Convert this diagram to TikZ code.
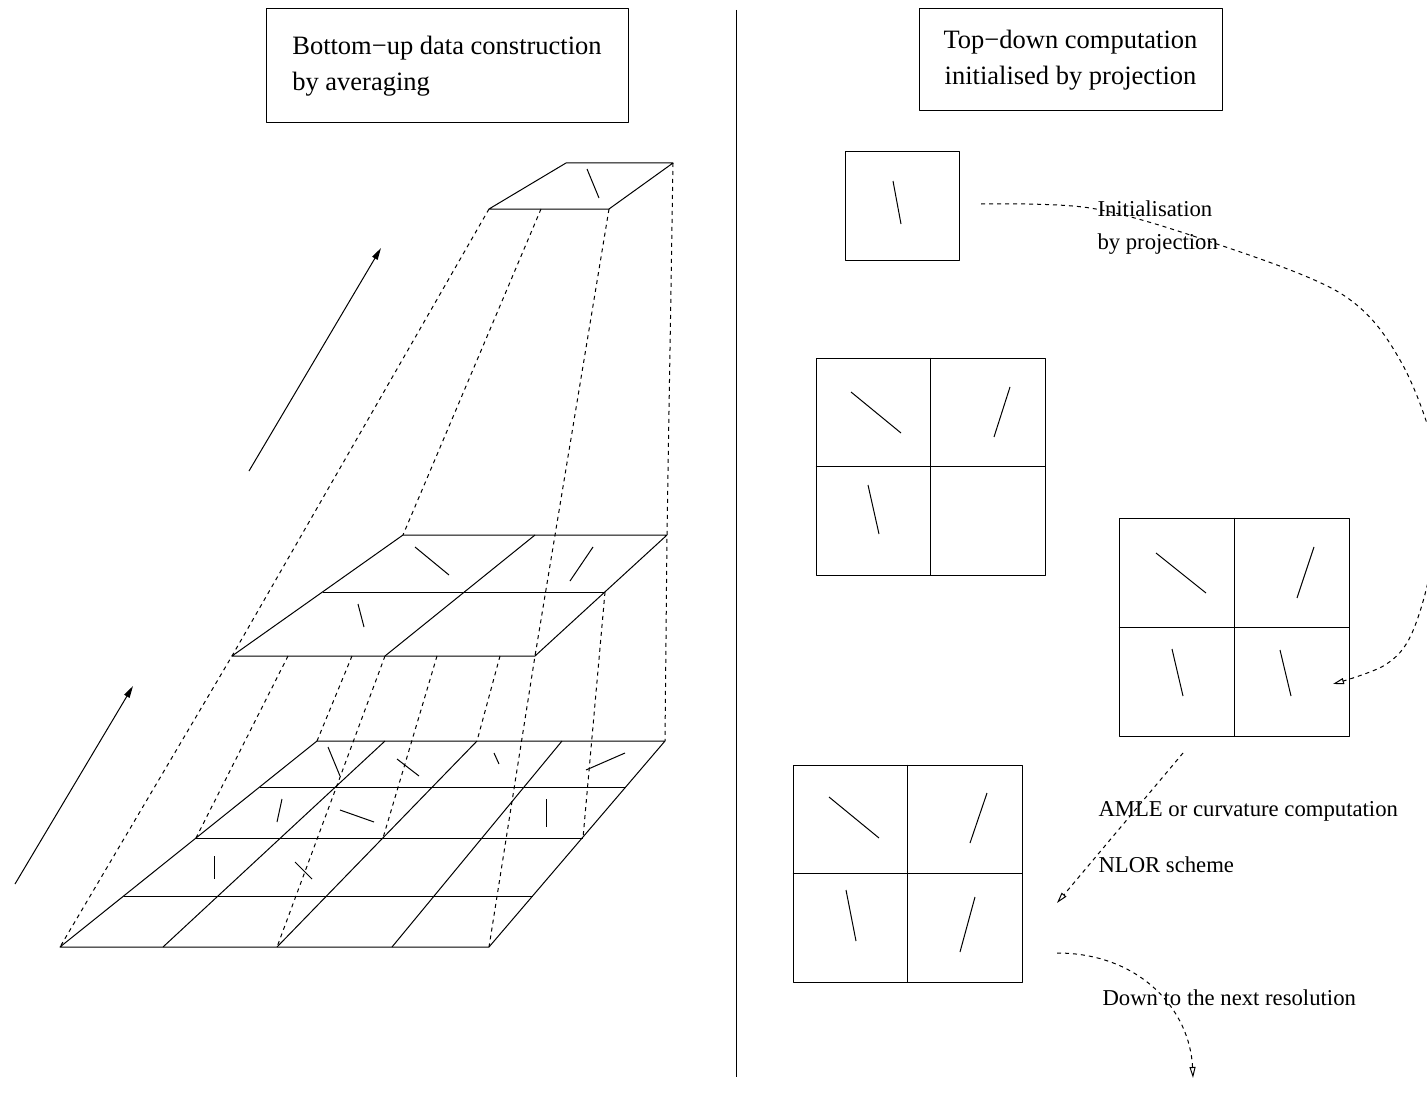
\documentclass[tikz,border=0pt]{standalone}
\usepackage{fontspec}
\setmainfont{Liberation Serif}
\usetikzlibrary{arrows.meta}
\begin{document}
\begin{tikzpicture}[x=1pt,y=-1pt,line width=1pt,line join=round,
  dsh/.style={dash pattern=on 4pt off 4pt},
  txt/.style={font=\fontsize{22.7}{34}\selectfont},
  lbl/.style={txt,inner sep=0pt,anchor=base west},
  titlebox/.style={draw,font=\fontsize{26.5}{36}\selectfont,inner ysep=0pt},
  cell/.style={draw,inner sep=0pt},
  filltip/.style={-{Triangle[length=12pt,width=6pt]}},
  opentip/.style={-{Triangle[open,length=11pt,width=6pt]}}]
\useasboundingbox (0,0) rectangle (1427,1105);
\clip (0,0) rectangle (1427,1105);

% ---------- titles and divider ----------
\node[titlebox,minimum width=362pt,minimum height=114pt,align=left]
  (ltitle) at (447,66) {Bottom−up data construction\\by averaging};
\node[titlebox,minimum width=303pt,minimum height=102pt,align=center]
  (rtitle) at (1070.5,60) {Top−down computation\\ initialised by projection};
\coordinate (divtop) at (736,10);
\coordinate (divbot) at (736,1077);
\draw (divtop) -- (divbot);

% ---------- left: resolution pyramid ----------
% coarsest level
\coordinate (t1) at (566,163); \coordinate (t2) at (673,163);
\coordinate (t3) at (609,209); \coordinate (t4) at (489,209);
\coordinate (tm) at (541,209);
\draw (t1) -- (t2) -- (t3) -- (t4) -- cycle;
\draw (587,169) -- (599,198);

% middle level (2x2)
\coordinate (m1) at (403,535); \coordinate (m2) at (667,535);
\coordinate (m3) at (535,656); \coordinate (m4) at (232,656);
\coordinate (mr) at (605,592);
\draw (m1) -- (m2) -- (m3) -- (m4) -- cycle;
\draw (323,592) -- (mr);
\draw (535,535) -- (385,656);
\draw (415,547) -- (449,575);
\draw (593,547) -- (570,581);
\draw (358,604) -- (364,627);

% finest level (4x4)
\coordinate (b1) at (317,741); \coordinate (b2) at (665,741);
\coordinate (b3) at (489,947); \coordinate (b4) at (60,947);
\draw (b1) -- (b2) -- (b3) -- (b4) -- cycle;
\draw (260,787) -- (626,787);
\draw (196,838) -- (583,838);
\draw (124,896) -- (533,896);
\draw (163,947) -- (385,741);
\draw (277,947) -- (477,741);
\draw (392,947) -- (562,741);
\draw (328,747) -- (340,776);
\draw (397,759) -- (419,776);
\draw (494,753) -- (499,764);
\draw (625,753) -- (586,770);
\draw (282,799) -- (277,822);
\draw (340,810) -- (374,822);
\draw (546,799) -- (546,827);
\draw (214,856) -- (214,879);
\draw (295,862) -- (312,879);

% projection lines between levels
\draw[dsh] (t4) -- (m4) -- (b4);
\draw[dsh] (tm) -- (m1);
\draw[dsh] (t3) -- (m3) -- (b3);
\draw[dsh] (t2) -- (m2) -- (b2);
\draw[dsh] (288,656) -- (196,838);
\draw[dsh] (352,656) -- (b1);
\draw[dsh] (385,656) -- (277,947);
\draw[dsh] (437,656) -- (383,838);
\draw[dsh] (500,656) -- (477,741);
\draw[dsh] (mr) -- (583,838);

% upward arrows
\coordinate (ua1) at (249,471); \coordinate (ua2) at (381,248);
\coordinate (ub1) at (15,884);  \coordinate (ub2) at (133,686);
\draw[filltip] (ua1) -- (ua2);
\draw[filltip] (ub1) -- (ub2);

% ---------- right: top-down computation ----------
\node[cell,minimum width=114pt,minimum height=108pt] (sq) at (902,206) {};
\draw (893,181) -- (901,224);

\node[cell,minimum width=229pt,minimum height=217pt] (ga) at (930.5,466.5) {};
\draw (ga.north) -- (ga.south);
\draw (ga.west) -- (ga.east);
\draw (851,392) -- (901,433);
\draw (1010,387) -- (994,437);
\draw (868,485) -- (879,534);

\node[cell,minimum width=230pt,minimum height=218pt] (gb) at (1234,627) {};
\draw (gb.north) -- (gb.south);
\draw (gb.west) -- (gb.east);
\draw (1156,553) -- (1206,593);
\draw (1314,547) -- (1297,598);
\draw (1172,649) -- (1183,696);
\draw (1280,650) -- (1291,696);

\node[cell,minimum width=229pt,minimum height=217pt] (gc) at (907.5,873.5) {};
\draw (gc.north) -- (gc.south);
\draw (gc.west) -- (gc.east);
\draw (829,797) -- (879,838);
\draw (987,793) -- (970,843);
\draw (846,890) -- (856,941);
\draw (975,897) -- (960,952);

% dashed flow arrows
\coordinate (p1) at (981,204);
\coordinate (p2) at (1333,684);
\draw[dsh,opentip] plot[smooth,tension=0.55] coordinates
  {(p1) (1090,208) (1205,240) (1340,293) (1400,360) (1436,460) (1432,560) (1412,633) (1385,665) (p2)};

\coordinate (q1) at (1183,753);
\coordinate (q2) at (1057,903);
\draw[dsh,opentip] (q1) -- (q2);

\coordinate (r1) at (1057,953);
\coordinate (r2) at (1193,1078);
\draw[dsh,opentip] (r1) .. controls (1140,953) and (1190,1010) .. (r2);

% labels
\node[lbl] (l1) at (1097,216) {Initialisation};
\node[lbl] (l2) at (1097,249) {by projection};
\node[lbl] (l3) at (1098,816) {AMLE or curvature computation};
\node[lbl] (l4) at (1098,872) {NLOR scheme};
\node[lbl] (l5) at (1102,1005) {Down to the next resolution};
\end{tikzpicture}
\end{document}
